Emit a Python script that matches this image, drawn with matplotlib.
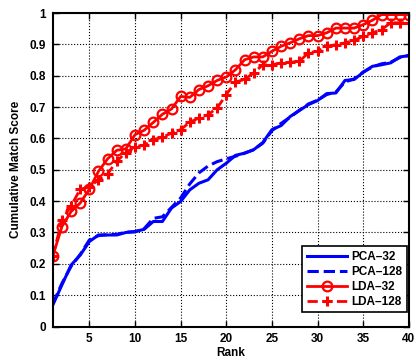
import matplotlib
matplotlib.use('Agg')
import matplotlib.pyplot as plt
import numpy as np

rank = np.arange(1, 41)

# values
pca32 = [0.069, 0.133, 0.196, 0.228, 0.271, 0.292, 0.292, 0.292, 0.300, 0.303,
         0.310, 0.335, 0.335, 0.378, 0.399, 0.436, 0.457, 0.468, 0.500, 0.521,
         0.546, 0.553, 0.564, 0.587, 0.628, 0.641, 0.670, 0.689, 0.708, 0.721,
         0.743, 0.745, 0.785, 0.788, 0.811, 0.830, 0.835, 0.841, 0.860, 0.864]
pca128 = [0.072, 0.138, 0.192, 0.230, 0.276, 0.290, 0.293, 0.294, 0.301, 0.302,
          0.312, 0.345, 0.350, 0.380, 0.410, 0.455, 0.490, 0.512, 0.526, 0.535,
          0.543, 0.553, 0.564, 0.585, 0.625, 0.648, 0.668, 0.690, 0.710, 0.722,
          0.740, 0.748, 0.780, 0.790, 0.812, 0.828, 0.838, 0.843, 0.858, 0.865]
lda32 = [0.225, 0.319, 0.367, 0.394, 0.438, 0.495, 0.535, 0.562, 0.567, 0.612,
         0.626, 0.651, 0.677, 0.694, 0.734, 0.731, 0.756, 0.768, 0.785, 0.796,
         0.819, 0.851, 0.860, 0.860, 0.878, 0.894, 0.905, 0.918, 0.928, 0.928,
         0.937, 0.952, 0.952, 0.952, 0.963, 0.977, 0.995, 0.995, 0.995, 0.995]
lda128 = [0.225, 0.340, 0.385, 0.438, 0.445, 0.468, 0.487, 0.527, 0.555, 0.574,
          0.578, 0.596, 0.604, 0.617, 0.628, 0.652, 0.665, 0.676, 0.697, 0.740,
          0.780, 0.788, 0.809, 0.835, 0.835, 0.841, 0.843, 0.846, 0.873, 0.878,
          0.894, 0.899, 0.905, 0.913, 0.926, 0.937, 0.947, 0.969, 0.969, 0.969]

plt.rcParams['font.family'] = ['Liberation Sans', 'DejaVu Sans']
plt.rcParams['font.weight'] = 'bold'
plt.rcParams['font.size'] = 8.5

fig = plt.figure(figsize=(4.16, 3.62), dpi=100)
ax = fig.add_axes([0.127, 0.098, 0.856, 0.866])

ax.plot(rank, pca32, '-', color='blue', lw=2.2, label='PCA\u201332')
ax.plot(rank, pca128, '--', color='blue', lw=2.2, label='PCA\u2013128')
ax.plot(rank, lda32, '-o', color='red', lw=2, ms=7, mfc='none', mew=1.6, label='LDA\u201332')
ax.plot(rank, lda128, '--+', color='red', lw=2, ms=7, mew=2.2, label='LDA\u2013128')

ax.set_xlim(1, 40)
ax.set_ylim(0, 1)
ax.set_xticks(np.arange(5, 41, 5))
ax.set_yticks(np.arange(0, 1.01, 0.1))
ax.set_yticklabels(['0', '0.1', '0.2', '0.3', '0.4', '0.5', '0.6', '0.7', '0.8', '0.9', '1'])
ax.tick_params(direction='in', top=True, right=True, length=4, width=1, pad=5)
ax.grid(True, linestyle=':', color='black', lw=0.8)
for s in ax.spines.values():
    s.set_linewidth(1.5)

ax.set_xlabel('Rank', fontweight='bold', labelpad=1)
ax.set_ylabel('Cumulative Match Score', fontweight='bold', labelpad=5)

leg = ax.legend(loc='lower right', bbox_to_anchor=(0.995, 0.045), fancybox=False,
                edgecolor='black', framealpha=1, handlelength=3.4, handletextpad=0.4,
                borderaxespad=0.0, borderpad=0.4, labelspacing=0.25, fontsize=8.5)
leg.get_frame().set_linewidth(1.2)

fig.savefig('out.png', dpi=100)
